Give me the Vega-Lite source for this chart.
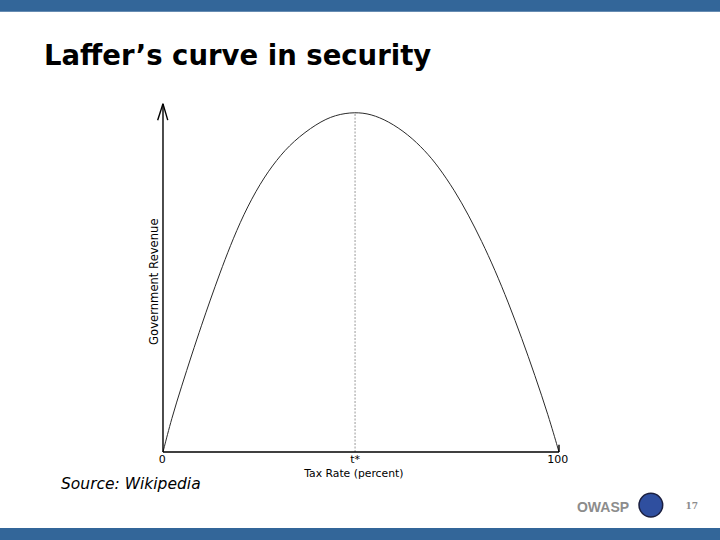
{
  "$schema": "https://vega.github.io/schema/vega-lite/v6.json",
  "width": 720,
  "height": 540,
  "autosize": {"type": "fit", "contains": "padding"},
  "padding": 0,
  "background": "white",
  "config": {"view": {"stroke": null}},
  "datasets": {
    "bars": [
      {"x": -41.16, "x2": 140.66, "y": 129.5, "y2": 132.94},
      {"x": -41.16, "x2": 140.66, "y": -22.35, "y2": -25.88}
    ],
    "axes": [
      {"part": "y axis", "x": 0, "y": 0, "x2": 0, "y2": 102.4},
      {"part": "x axis", "x": 0, "y": 0, "x2": 100, "y2": 0},
      {"part": "tick 100", "x": 100, "y": 0, "x2": 100, "y2": 2.1},
      {"part": "arrow left", "x": 0, "y": 102.4, "x2": -1.35, "y2": 97.6},
      {"part": "arrow right", "x": 0, "y": 102.4, "x2": 1.2, "y2": 97.6}
    ],
    "tstar": [
      {"x": 48.5, "y": 0, "x2": 48.5, "y2": 100}
    ],
    "curve": [
      {"x": 0, "y": 0},
      {"x": 2.2, "y": 10.0},
      {"x": 4.72, "y": 19.4},
      {"x": 7.25, "y": 28.6},
      {"x": 9.77, "y": 37.4},
      {"x": 11.87, "y": 44.5},
      {"x": 14.4, "y": 52.7},
      {"x": 16.9, "y": 60.4},
      {"x": 20.3, "y": 69.8},
      {"x": 24.5, "y": 79.0},
      {"x": 28.7, "y": 86.0},
      {"x": 32.9, "y": 91.4},
      {"x": 38.8, "y": 96.6},
      {"x": 43.5, "y": 99.2},
      {"x": 48.5, "y": 100},
      {"x": 52.5, "y": 99.4},
      {"x": 56.9, "y": 97.3},
      {"x": 61.9, "y": 93.4},
      {"x": 66.2, "y": 88.6},
      {"x": 69.5, "y": 84.0},
      {"x": 73.7, "y": 76.8},
      {"x": 77.1, "y": 69.8},
      {"x": 80.5, "y": 62.0},
      {"x": 83.8, "y": 53.6},
      {"x": 87.2, "y": 44.0},
      {"x": 90.6, "y": 33.5},
      {"x": 93.9, "y": 22.6},
      {"x": 97.3, "y": 10.8},
      {"x": 100, "y": 0}
    ],
    "title": [{"label": "Laffer’s curve in security", "x": -30.05, "y": 113.7}],
    "ticklabels": [
      {"label": "0", "x": -0.2, "y": -3.1},
      {"label": "t*", "x": 48.5, "y": -3.1},
      {"label": "100", "x": 99.7, "y": -3.1}
    ],
    "xtitle": [{"label": "Tax Rate (percent)", "x": 48.2, "y": -7.35}],
    "ytitle": [{"label": "Government Revenue", "x": -1.2, "y": 50.1}],
    "source": [{"label": "Source: Wikipedia", "x": -25.76, "y": -10.74}],
    "owasp": [{"label": "OWASP", "x": 117.7, "y": -17.5}],
    "logo": [{"x": 123.2, "y": -15.6}],
    "page": [{"label": "17", "x": 133.5, "y": -16.9}]
  },
  "encoding": {
    "x": {"field": "x", "type": "quantitative", "axis": null, "scale": {"domain": [-41.16, 140.66], "nice": false, "zero": false}},
    "y": {"field": "y", "type": "quantitative", "axis": null, "scale": {"domain": [-25.88, 132.94], "nice": false, "zero": false}}
  },
  "layer": [
    {
      "data": {"name": "bars"},
      "mark": {"type": "rect", "color": "#336699"},
      "encoding": {"x2": {"field": "x2"}, "y2": {"field": "y2"}}
    },
    {
      "data": {"name": "tstar"},
      "mark": {"type": "rule", "color": "#9a9a9a", "strokeWidth": 1, "strokeDash": [2, 1.5]},
      "encoding": {"x2": {"field": "x2"}, "y2": {"field": "y2"}}
    },
    {
      "data": {"name": "curve"},
      "mark": {"type": "line", "color": "#2a2a2a", "strokeWidth": 1, "interpolate": "basis"},
      "encoding": {}
    },
    {
      "data": {"name": "axes"},
      "mark": {"type": "rule", "color": "#000000", "strokeWidth": 1.4},
      "encoding": {"x2": {"field": "x2"}, "y2": {"field": "y2"}}
    },
    {
      "data": {"name": "title"},
      "mark": {"type": "text", "font": "DejaVu Sans", "fontWeight": "bold", "fontSize": 27.5, "align": "left", "baseline": "alphabetic", "color": "#000000"},
      "encoding": {"text": {"field": "label"}}
    },
    {
      "data": {"name": "ticklabels"},
      "mark": {"type": "text", "font": "DejaVu Sans", "fontSize": 11, "align": "center", "baseline": "alphabetic", "color": "#000000"},
      "encoding": {"text": {"field": "label"}}
    },
    {
      "data": {"name": "xtitle"},
      "mark": {"type": "text", "font": "DejaVu Sans", "fontSize": 10.8, "align": "center", "baseline": "alphabetic", "color": "#000000"},
      "encoding": {"text": {"field": "label"}}
    },
    {
      "data": {"name": "ytitle"},
      "mark": {"type": "text", "font": "DejaVu Sans", "fontSize": 11.6, "align": "center", "baseline": "alphabetic", "angle": 270, "color": "#000000"},
      "encoding": {"text": {"field": "label"}}
    },
    {
      "data": {"name": "source"},
      "mark": {"type": "text", "font": "DejaVu Sans", "fontStyle": "italic", "fontSize": 15.5, "align": "left", "baseline": "alphabetic", "color": "#000000"},
      "encoding": {"text": {"field": "label"}}
    },
    {
      "data": {"name": "owasp"},
      "mark": {"type": "text", "font": "Liberation Sans", "fontWeight": "bold", "fontSize": 14, "align": "right", "baseline": "alphabetic", "color": "#8c8c8c"},
      "encoding": {"text": {"field": "label"}}
    },
    {
      "data": {"name": "logo"},
      "mark": {"type": "point", "shape": "circle", "filled": true, "size": 560, "color": "#2f4f9f", "stroke": "#1b1f3f", "strokeWidth": 1.5, "opacity": 1},
      "encoding": {}
    },
    {
      "data": {"name": "page"},
      "mark": {"type": "text", "font": "DejaVu Serif", "fontWeight": "bold", "fontSize": 9, "align": "center", "baseline": "alphabetic", "color": "#8c8c8c"},
      "encoding": {"text": {"field": "label"}}
    }
  ]
}
